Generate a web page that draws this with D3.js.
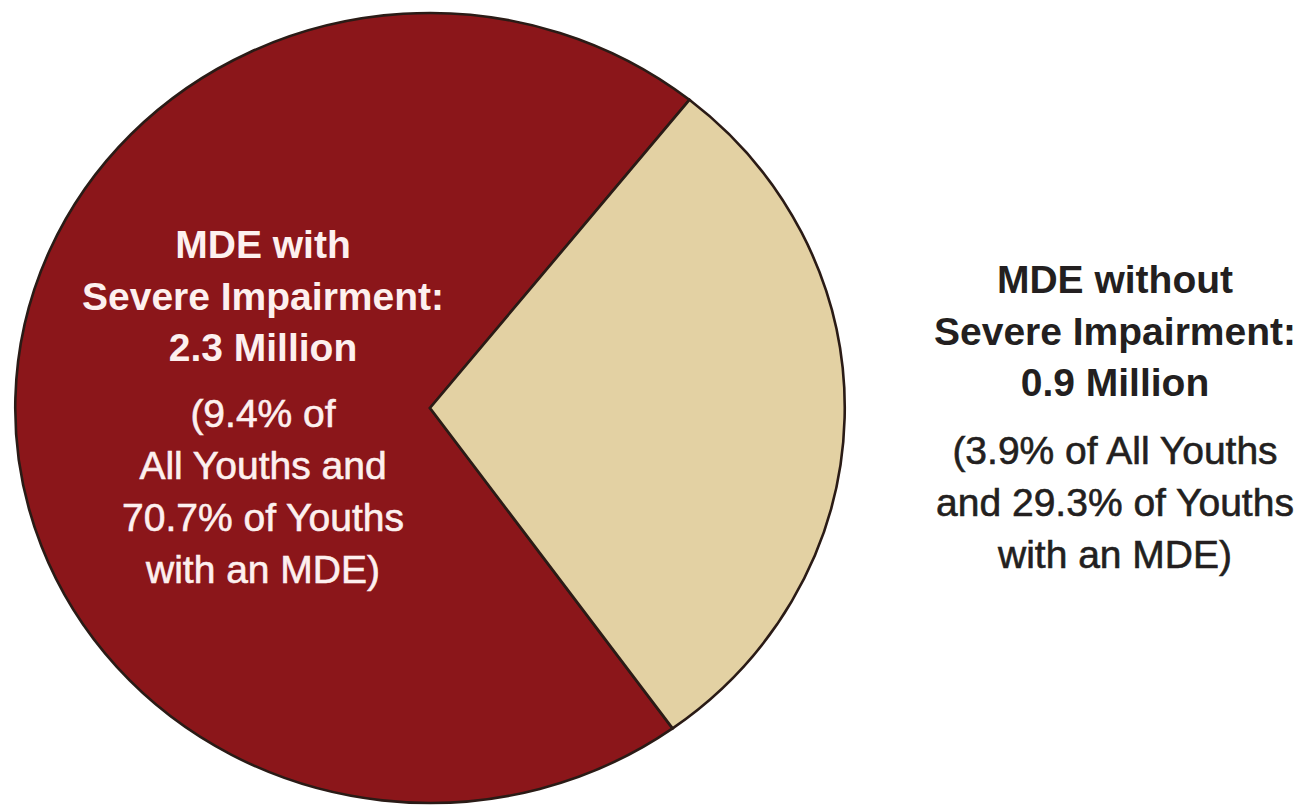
<!DOCTYPE html>
<html>
<head>
<meta charset="utf-8">
<script src="https://cdn.jsdelivr.net/npm/d3@7"></script>
<style>
  html, body { margin: 0; padding: 0; background: #ffffff; }
  svg { display: block; }
</style>
</head>
<body>
<svg id="chart" width="1303" height="812"></svg>
<script>
// ---- data ----
const categories = ["MDE with Severe Impairment", "MDE without Severe Impairment"];
const millions = [2.3, 0.9];
const pctAllYouths = [9.4, 3.9];
const pctOfMDE = [70.7, 29.3];
const titleLines = [["MDE with", "Severe Impairment:"], ["MDE without", "Severe Impairment:"]];
const detailLines = [
  ["(9.4% of", "All Youths and", "70.7% of Youths", "with an MDE)"],
  ["(3.9% of All Youths", "and 29.3% of Youths", "with an MDE)"]
];
const colors = ["#8b161a", "#e3d1a3"];
const textColors = ["#fdf0ef", "#231f20"];

// ---- layout ----
const svg = d3.select("#chart");
const cx = 430, cy = 408, r = 395, sx = 1.05;
const deg = Math.PI / 180;
const start = 144.2 * deg;

const pie = d3.pie().sort(null).value(d => d).startAngle(start).endAngle(start + 2 * Math.PI);
const arc = d3.arc().innerRadius(0).outerRadius(r);

const g = svg.append("g").attr("transform", `translate(${cx},${cy}) scale(${sx},1)`);
g.selectAll("path")
  .data(pie(pctOfMDE))
  .join("path")
  .attr("d", arc)
  .attr("fill", (d, i) => colors[i])
  .attr("stroke", "#2a1b16")
  .attr("stroke-width", 2.6)
  .attr("stroke-linejoin", "miter")
  .attr("vector-effect", "non-scaling-stroke");

// ---- labels ----
const labelPos = [
  { x: 263, y0: 258, gapY: 427 },
  { x: 1115, y0: 293, gapY: 464 }
];
const lineStep = 52;
const font = "'Liberation Sans', Arial, Helvetica, sans-serif";

categories.forEach((c, i) => {
  const lg = svg.append("g").attr("class", "label");
  const lines = [...titleLines[i], `${millions[i]} Million`];
  lines.forEach((t, k) => {
    lg.append("text")
      .attr("x", labelPos[i].x)
      .attr("y", labelPos[i].y0 + k * 51.5)
      .attr("text-anchor", "middle")
      .attr("font-family", font)
      .attr("font-weight", "bold")
      .attr("font-size", 39)
      .attr("fill", textColors[i])
      .text(t);
  });
  detailLines[i].forEach((t, k) => {
    lg.append("text")
      .attr("x", labelPos[i].x)
      .attr("y", labelPos[i].gapY + k * lineStep)
      .attr("text-anchor", "middle")
      .attr("font-family", font)
      .attr("font-weight", "normal")
      .attr("font-size", 39)
      .attr("fill", textColors[i])
      .attr("stroke", textColors[i])
      .attr("stroke-width", 0.6)
      .text(t);
  });
});
</script>
</body>
</html>
